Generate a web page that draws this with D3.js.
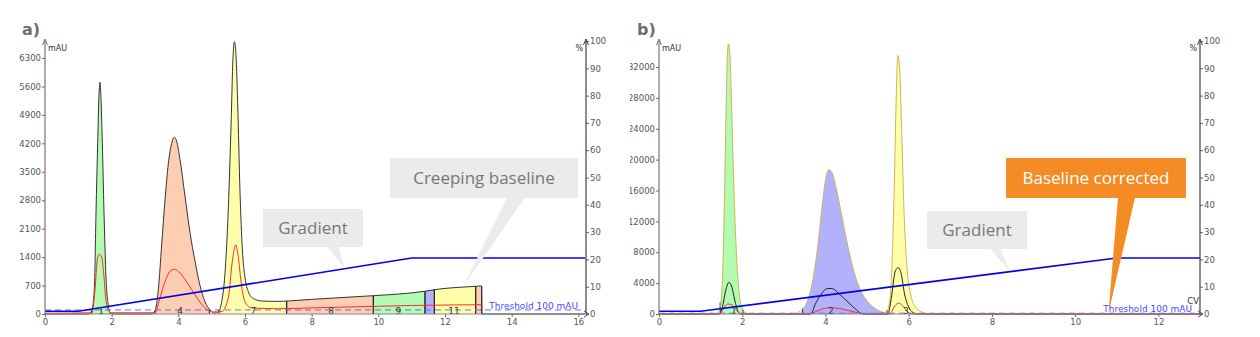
<!DOCTYPE html>
<html>
<head>
<meta charset="utf-8">
<script src="https://cdn.jsdelivr.net/npm/d3@7/dist/d3.min.js"></script>
<style>
  body { margin: 0; background: #fff; }
  svg { display: block; font-family: "DejaVu Sans", sans-serif; }
</style>
</head>
<body>
<svg id="chart" width="1260" height="337"></svg>
<script>
// ---- data (x in CV, signal in mAU, gradient in %) ----
var traceA = [[0,0],[1.3,0],[1.4,80],[1.48,600],[1.53,2500],[1.58,4200],[1.62,5400],[1.65,5700],[1.68,5300],[1.72,4200],
  [1.77,2500],[1.83,900],[1.9,200],[1.95,40],[2.05,0],[3.2,0],[3.3,80],[3.4,600],[3.5,1700],[3.6,2800],[3.7,3700],
  [3.8,4200],[3.88,4350],[3.95,4250],[4.05,3800],[4.2,2900],[4.35,2000],[4.5,1300],[4.65,700],[4.8,300],[4.95,100],
  [5.1,20],[5.2,60],[5.3,300],[5.4,1000],[5.5,2600],[5.58,4600],[5.64,6300],[5.68,6700],[5.72,6500],[5.78,5200],
  [5.85,3000],[5.92,1600],[6.0,900],[6.1,550],[6.25,380],[6.5,320],[7.0,310],[7.3,320],[8,360],[9,410],[9.85,450],
  [11.4,560],[11.7,600],[12.9,680],[13.1,690],[13.11,0],[16.2,0]];
var redA = [[0,20],[1.4,30],[1.5,600],[1.57,1350],[1.63,1470],[1.7,1400],[1.76,1000],[1.82,400],[1.9,100],[2.0,30],
  [3.3,30],[3.45,400],[3.6,800],[3.75,1050],[3.88,1100],[4.0,1050],[4.2,850],[4.4,600],[4.6,350],[4.8,150],[5.0,50],
  [5.3,60],[5.5,400],[5.62,1300],[5.72,1700],[5.8,1400],[5.88,800],[6.0,300],[6.2,150],[7,130],[8,150],[9,170],
  [10,190],[11,210],[12,220],[13.1,230]];
var gradientA = [[0,1],[1,1],[11,20.5],[16.2,20.5]];
var fracStartA = [1.4, 3.3, 5.22, 7.25, 9.85, 11.4, 11.68, 12.92];
var fracEndA   = [1.95, 4.93, 7.25, 9.85, 11.4, 11.68, 12.92, 13.1];
var fracKindA  = ["green", "salmon", "yellow", "salmon", "green", "blue", "yellow", "salmon"];
var fracLabelA = ["1", "4", "7", "8", "9", "", "11", ""];
var fracLabelXA = [1.68, 4.05, 6.25, 8.58, 10.6, 11.54, 12.27, 13.0];

var traceB = [[0,0],[1.35,0],[1.45,500],[1.52,4000],[1.57,14000],[1.61,26000],[1.64,33000],[1.67,35000],[1.7,34000],
  [1.74,28000],[1.79,18000],[1.85,9000],[1.92,3000],[2.0,700],[2.1,100],[2.3,0],[3.2,0],[3.4,400],[3.55,1500],
  [3.7,4500],[3.82,9000],[3.92,14000],[4.0,17300],[4.08,18700],[4.15,18400],[4.25,16500],[4.4,12500],[4.55,8500],
  [4.7,5200],[4.85,3000],[5.0,1700],[5.15,900],[5.3,400],[5.42,200],[5.5,600],[5.56,2500],[5.61,8000],[5.66,18000],
  [5.7,28000],[5.74,33500],[5.78,32000],[5.83,24000],[5.89,13000],[5.96,6000],[6.05,2500],[6.15,1000],[6.3,300],
  [6.45,50],[6.6,0],[13,0]];
var blackB = [[0,0],[1.45,0],[1.52,800],[1.6,3000],[1.68,4100],[1.75,3500],[1.82,1800],[1.9,300],[1.95,0],[3.65,0],
  [3.75,1200],[3.9,2600],[4.05,3300],[4.15,3300],[4.35,2500],[4.55,1500],[4.75,500],[4.9,0],[5.5,0],[5.58,2000],
  [5.68,5600],[5.75,6000],[5.82,5200],[5.9,2600],[6.0,900],[6.1,200],[6.2,0],[13,0]];
var redB = [[0,0],[1.45,0],[1.55,700],[1.65,1300],[1.75,1200],[1.85,600],[1.95,50],[3.6,0],[3.8,400],[4.0,750],
  [4.15,800],[4.4,650],[4.7,250],[5.0,0],[5.55,0],[5.65,900],[5.75,1400],[5.85,1100],[5.95,400],[6.1,0],[13,0]];
var gradientB = [[0,1],[1,1],[11,20.5],[13,20.5]];
var fracStartB = [1.47, 3.45, 5.48];
var fracEndB   = [2.02, 5.38, 6.4];
var fracKindB  = ["green", "blue", "yellow"];
var fracLabelB = ["1", "2", "3"];
var fracLabelXB = [1.8, 4.13, 5.93];

var xTicksA = [0, 2, 4, 6, 8, 10, 12, 14, 16];
var yTicksA = [0, 700, 1400, 2100, 2800, 3500, 4200, 4900, 5600, 6300];
var xTicksB = [0, 2, 4, 6, 8, 10, 12];
var yTicksB = [0, 4000, 8000, 12000, 16000, 20000, 24000, 28000, 32000];
var pctTicks = [0, 10, 20, 30, 40, 50, 60, 70, 80, 90, 100];
var threshold = 100;

var fracColors = { green: "#b3fbb0", salmon: "#fdceb2", yellow: "#ffffaa", blue: "#b2b2fc" };

var svg = d3.select("#chart");
var H = 337, BASE = 314;
var curve = d3.curveMonotoneX;

function valueAt(trace, xv) {
  var i = d3.bisector(function (d) { return d[0]; }).left(trace, xv);
  if (i <= 0) return trace[0][1];
  if (i >= trace.length) return trace[trace.length - 1][1];
  var a = trace[i - 1], b = trace[i];
  return a[1] + (b[1] - a[1]) * (xv - a[0]) / (b[0] - a[0]);
}

function drawPanel(o) {
  var root = svg.append("g");
  if (o.clipLeft) {
    root.append("clipPath").attr("id", o.id + "-panel")
      .append("rect").attr("x", o.clipLeft).attr("y", 0).attr("width", 1260 - o.clipLeft).attr("height", H);
    root.attr("clip-path", "url(#" + o.id + "-panel)");
  }
  var g = root.append("g");
  var x = d3.scaleLinear().domain([0, o.xMax]).range([o.left, o.right]);
  var y = d3.scaleLinear().domain([0, o.yTickMax]).range([BASE, o.yTickTop]);
  var yp = d3.scaleLinear().domain([0, 100]).range([BASE, 41]);

  var area = d3.area().x(function (d) { return x(d[0]); }).y0(y(0)).y1(function (d) { return y(d[1]); }).curve(curve);
  var line = d3.line().x(function (d) { return x(d[0]); }).y(function (d) { return y(d[1]); }).curve(curve);

  // fraction fills under the main trace
  o.fracStart.forEach(function (s, i) {
    var cid = o.id + "-frac" + i;
    g.append("clipPath").attr("id", cid).append("rect")
      .attr("x", x(s)).attr("y", 0).attr("width", x(o.fracEnd[i]) - x(s)).attr("height", H);
    g.append("path").datum(o.trace).attr("d", area)
      .attr("fill", fracColors[o.fracKind[i]]).attr("clip-path", "url(#" + cid + ")");
  });

  // fraction boundary lines
  o.fracStart.forEach(function (s, i) {
    [s, o.fracEnd[i]].forEach(function (xv) {
      g.append("line").attr("x1", x(xv)).attr("x2", x(xv))
        .attr("y1", y(0)).attr("y2", y(valueAt(o.trace, xv)))
        .attr("stroke", o.boundary).attr("stroke-width", 1);
    });
  });

  g.append("path").datum(o.trace).attr("d", line).attr("fill", "none")
    .attr("stroke", o.outline).attr("stroke-width", 1);
  if (o.black) {
    g.append("path").datum(o.black).attr("d", line).attr("fill", "none")
      .attr("stroke", "#222").attr("stroke-width", 1);
  }
  g.append("path").datum(o.red).attr("d", line).attr("fill", "none")
    .attr("stroke", "#ff2a2a").attr("stroke-width", 1);

  // threshold
  g.append("line").attr("x1", x(0)).attr("x2", x(o.xMax))
    .attr("y1", y(threshold)).attr("y2", y(threshold))
    .attr("stroke", "#6a6aff").attr("stroke-width", 1).attr("stroke-dasharray", "6,4");
  g.append("text").attr("x", o.right - 8).attr("y", y(threshold) - 1)
    .attr("text-anchor", "end").attr("font-size", 9).attr("fill", "#4a4aff")
    .text("Threshold 100 mAU");

  // gradient
  g.append("path").datum(o.gradient)
    .attr("d", d3.line().x(function (d) { return x(d[0]); }).y(function (d) { return yp(d[1]); }))
    .attr("fill", "none").attr("stroke", "#0000f0").attr("stroke-width", 1.6);

  // fraction labels
  o.fracLabel.forEach(function (t, i) {
    g.append("text").attr("x", x(o.fracLabelX[i])).attr("y", BASE - 0.5)
      .attr("text-anchor", "middle").attr("font-size", 9).attr("fill", "#333").text(t);
  });

  // axes
  var xa = g.append("g").attr("transform", "translate(0," + BASE + ")")
    .call(d3.axisBottom(x).tickValues(o.xTicks).tickSize(3).tickPadding(2).tickFormat(d3.format("d")));
  var ya = g.append("g").attr("transform", "translate(" + o.left + ",0)")
    .call(d3.axisLeft(y).tickValues(o.yTicks).tickSize(3).tickPadding(1).tickFormat(d3.format("d")));
  var pa = g.append("g").attr("transform", "translate(" + o.right + ",0)")
    .call(d3.axisRight(yp).tickValues(pctTicks).tickSize(3).tickPadding(1).tickFormat(d3.format("d")));
  [xa, ya, pa].forEach(function (a) {
    a.select(".domain").remove();
    a.selectAll("text").attr("font-size", 8.5).attr("fill", "#555").attr("font-family", "DejaVu Sans, sans-serif");
    a.selectAll(".tick line").attr("stroke", "#666");
  });
  g.append("line").attr("x1", o.left).attr("x2", o.right + 2).attr("y1", BASE).attr("y2", BASE)
    .attr("stroke", "#888").attr("stroke-width", 1.2);
  g.append("path").attr("d", "M" + (o.right - 2) + "," + (BASE - 3) + "L" + (o.right + 3) + "," + BASE + "L" + (o.right - 2) + "," + (BASE + 3))
    .attr("fill", "none").attr("stroke", "#555");
  g.append("line").attr("x1", o.left).attr("x2", o.left).attr("y1", BASE).attr("y2", 40)
    .attr("stroke", "#8c6e6e").attr("stroke-width", 1.2);
  g.append("path").attr("d", "M" + (o.left - 2.5) + ",45L" + o.left + ",39L" + (o.left + 2.5) + ",45")
    .attr("fill", "none").attr("stroke", "#8c6e6e");
  g.append("line").attr("x1", o.right).attr("x2", o.right).attr("y1", BASE).attr("y2", 40)
    .attr("stroke", "#444").attr("stroke-width", 1.2);
  g.append("path").attr("d", "M" + (o.right - 2.5) + ",45L" + o.right + ",39L" + (o.right + 2.5) + ",45")
    .attr("fill", "none").attr("stroke", "#444");
  g.append("text").attr("x", o.left + 3).attr("y", 51).attr("font-size", 8).attr("fill", "#333").text("mAU");
  g.append("text").attr("x", o.right - 3).attr("y", 51).attr("text-anchor", "end")
    .attr("font-size", 8).attr("fill", "#333").text("%");
  if (o.cv) {
    g.append("text").attr("x", o.right - 1).attr("y", BASE - 10).attr("text-anchor", "end")
      .attr("font-size", 8.5).attr("fill", "#333").text("CV");
  }

  // title
  root.append("text").attr("x", o.titleX).attr("y", 35).attr("font-size", 16).attr("font-weight", "bold")
    .attr("fill", "#6e6e6e").text(o.title);

  // callouts
  o.callouts.forEach(function (c) {
    var tipX = x(c.at[0]);
    var tipY = c.pct ? yp(c.at[1]) : y(c.at[1]);
    var cg = svg.append("g");
    cg.append("rect").attr("x", c.box[0]).attr("y", c.box[1]).attr("width", c.box[2]).attr("height", c.box[3])
      .attr("fill", c.fill);
    cg.append("path").attr("d", "M" + c.base[0] + "," + (c.box[1] + c.box[3] - 0.5) + "L" + c.base[1] + "," +
      (c.box[1] + c.box[3] - 0.5) + "L" + tipX + "," + tipY + "Z").attr("fill", c.fill);
    cg.append("text").attr("x", c.box[0] + c.box[2] / 2).attr("y", c.box[1] + c.box[3] / 2 + 6)
      .attr("text-anchor", "middle").attr("font-family", "Open Sans, sans-serif").attr("font-size", 17)
      .attr("fill", c.color).text(c.text);
  });
}

drawPanel({
  id: "a", title: "a)", titleX: 22,
  left: 45, right: 586, xMax: 16.23, yTickMax: 6300, yTickTop: 58,
  trace: traceA, red: redA, gradient: gradientA,
  fracStart: fracStartA, fracEnd: fracEndA, fracKind: fracKindA, fracLabel: fracLabelA, fracLabelX: fracLabelXA,
  xTicks: xTicksA, yTicks: yTicksA, outline: "#333", boundary: "#222",
  callouts: [
    { text: "Gradient", at: [9.0, 16.6], pct: true, box: [263, 209, 100, 38], base: [327, 338], fill: "#ebebeb", color: "#777" },
    { text: "Creeping baseline", at: [12.54, 664], pct: false, box: [390, 158, 188, 40], base: [507, 525], fill: "#ebebeb", color: "#777" }
  ]
});

drawPanel({
  id: "b", title: "b)", titleX: 637, clipLeft: 630, cv: true,
  left: 659, right: 1200, xMax: 13, yTickMax: 32000, yTickTop: 67,
  trace: traceB, red: redB, black: blackB, gradient: gradientB,
  fracStart: fracStartB, fracEnd: fracEndB, fracKind: fracKindB, fracLabel: fracLabelB, fracLabelX: fracLabelXB,
  xTicks: xTicksB, yTicks: yTicksB, outline: "#d2b25a", boundary: "#222",
  callouts: [
    { text: "Gradient", at: [8.44, 15.6], pct: true, box: [927, 211, 100, 38], base: [990, 1000], fill: "#ebebeb", color: "#777" },
    { text: "Baseline corrected", at: [10.8, 100], pct: false, box: [1006, 158, 180, 40], base: [1118, 1135], fill: "#f58b24", color: "#fff" }
  ]
});
</script>
</body>
</html>
